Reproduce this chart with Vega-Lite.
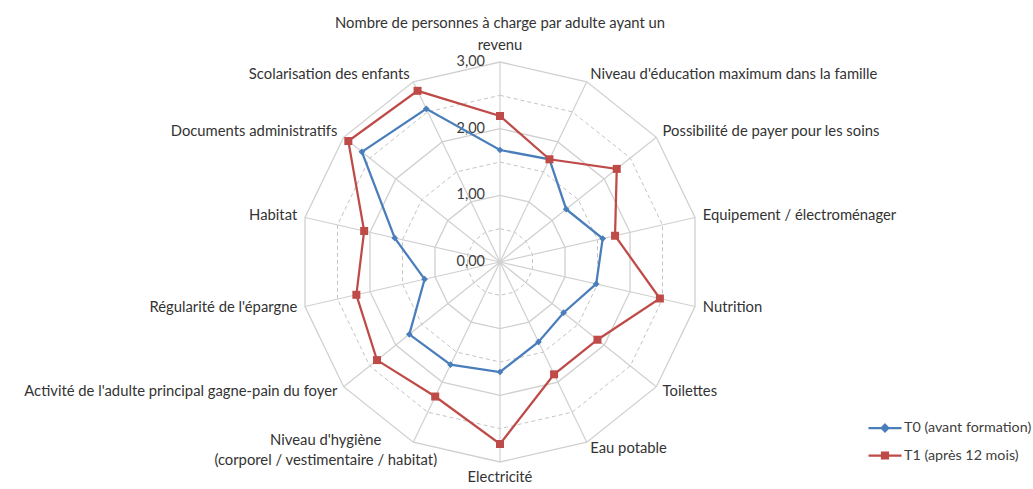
{
  "$schema": "https://vega.github.io/schema/vega-lite/v6.json",
  "width": 1033,
  "height": 489,
  "autosize": "none",
  "padding": 0,
  "config": {"view": {"stroke": null}, "font": "Lato", "text": {"font": "Lato"}},
  "datasets": {
    "axes": [
      {"i": 0, "label": "Nombre de personnes à charge par adulte ayant un\nrevenu"},
      {"i": 1, "label": "Niveau d'éducation maximum dans la famille"},
      {"i": 2, "label": "Possibilité de payer pour les soins"},
      {"i": 3, "label": "Equipement / électroménager"},
      {"i": 4, "label": "Nutrition"},
      {"i": 5, "label": "Toilettes"},
      {"i": 6, "label": "Eau potable"},
      {"i": 7, "label": "Electricité"},
      {"i": 8, "label": "Niveau d'hygiène\n(corporel / vestimentaire / habitat)"},
      {"i": 9, "label": "Activité de l'adulte principal gagne-pain du foyer"},
      {"i": 10, "label": "Régularité de l'épargne"},
      {"i": 11, "label": "Habitat"},
      {"i": 12, "label": "Documents administratifs"},
      {"i": 13, "label": "Scolarisation des enfants"}
    ],
    "scores": [
      {"i": 0, "series": "T0 (avant formation)", "value": 1.68},
      {"i": 1, "series": "T0 (avant formation)", "value": 1.71},
      {"i": 2, "series": "T0 (avant formation)", "value": 1.27},
      {"i": 3, "series": "T0 (avant formation)", "value": 1.58},
      {"i": 4, "series": "T0 (avant formation)", "value": 1.48},
      {"i": 5, "series": "T0 (avant formation)", "value": 1.22},
      {"i": 6, "series": "T0 (avant formation)", "value": 1.33},
      {"i": 7, "series": "T0 (avant formation)", "value": 1.65},
      {"i": 8, "series": "T0 (avant formation)", "value": 1.71},
      {"i": 9, "series": "T0 (avant formation)", "value": 1.74},
      {"i": 10, "series": "T0 (avant formation)", "value": 1.16},
      {"i": 11, "series": "T0 (avant formation)", "value": 1.62},
      {"i": 12, "series": "T0 (avant formation)", "value": 2.65},
      {"i": 13, "series": "T0 (avant formation)", "value": 2.55},
      {"i": 0, "series": "T1 (après 12 mois)", "value": 2.19},
      {"i": 1, "series": "T1 (après 12 mois)", "value": 1.71},
      {"i": 2, "series": "T1 (après 12 mois)", "value": 2.24},
      {"i": 3, "series": "T1 (après 12 mois)", "value": 1.77},
      {"i": 4, "series": "T1 (après 12 mois)", "value": 2.46},
      {"i": 5, "series": "T1 (après 12 mois)", "value": 1.87},
      {"i": 6, "series": "T1 (après 12 mois)", "value": 1.87},
      {"i": 7, "series": "T1 (après 12 mois)", "value": 2.73},
      {"i": 8, "series": "T1 (après 12 mois)", "value": 2.24},
      {"i": 9, "series": "T1 (après 12 mois)", "value": 2.36},
      {"i": 10, "series": "T1 (après 12 mois)", "value": 2.21},
      {"i": 11, "series": "T1 (après 12 mois)", "value": 2.09},
      {"i": 12, "series": "T1 (après 12 mois)", "value": 2.91},
      {"i": 13, "series": "T1 (après 12 mois)", "value": 2.85}
    ],
    "ticks": [{"level": 0}, {"level": 1}, {"level": 2}, {"level": 3}]
  },
  "layer": [
    {
      "data": {"name": "axes"},
      "transform": [
        {"calculate": "[0.5, 1.5, 2.5]", "as": "lv"},
        {"flatten": ["lv"]},
        {"calculate": "datum.i * 2 * PI / 14", "as": "a"},
        {"calculate": "datum.lv * sin(datum.a)", "as": "px"},
        {"calculate": "datum.lv * cos(datum.a)", "as": "py"}
      ],
      "mark": {"type": "line", "interpolate": "linear-closed", "color": "#c4c4c4", "strokeWidth": 1, "strokeDash": [4, 3]},
      "encoding": {
        "x": {"field": "px", "type": "quantitative", "scale": {"domain": [-7.5, 7.995], "nice": false, "zero": false}, "axis": null},
        "y": {"field": "py", "type": "quantitative", "scale": {"domain": [-3.405, 3.93], "nice": false, "zero": false}, "axis": null},
        "detail": {"field": "lv", "type": "nominal"},
        "order": {"field": "i", "type": "quantitative"}
      }
    },
    {
      "data": {"name": "axes"},
      "transform": [
        {"calculate": "[1, 2, 3]", "as": "lv"},
        {"flatten": ["lv"]},
        {"calculate": "datum.i * 2 * PI / 14", "as": "a"},
        {"calculate": "datum.lv * sin(datum.a)", "as": "px"},
        {"calculate": "datum.lv * cos(datum.a)", "as": "py"}
      ],
      "mark": {"type": "line", "interpolate": "linear-closed", "color": "#d0d0d0", "strokeWidth": 1.3},
      "encoding": {
        "x": {"field": "px", "type": "quantitative", "scale": {"domain": [-7.5, 7.995], "nice": false, "zero": false}, "axis": null},
        "y": {"field": "py", "type": "quantitative", "scale": {"domain": [-3.405, 3.93], "nice": false, "zero": false}, "axis": null},
        "detail": {"field": "lv", "type": "nominal"},
        "order": {"field": "i", "type": "quantitative"}
      }
    },
    {
      "data": {"name": "axes"},
      "transform": [
        {"calculate": "datum.i * 2 * PI / 14", "as": "a"},
        {"calculate": "3 * sin(datum.a)", "as": "px"},
        {"calculate": "3 * cos(datum.a)", "as": "py"},
        {"calculate": "0", "as": "cx"},
        {"calculate": "0", "as": "cy"}
      ],
      "mark": {"type": "rule", "color": "#d0d0d0", "strokeWidth": 1.2},
      "encoding": {
        "x": {"field": "cx", "type": "quantitative", "scale": {"domain": [-7.5, 7.995], "nice": false, "zero": false}, "axis": null},
        "y": {"field": "cy", "type": "quantitative", "scale": {"domain": [-3.405, 3.93], "nice": false, "zero": false}, "axis": null},
        "x2": {"field": "px"},
        "y2": {"field": "py"}
      }
    },
    {
      "data": {"name": "ticks"},
      "transform": [
        {"calculate": "replace(format(datum.level, '.2f'), '.', ',')", "as": "txt"},
        {"calculate": "0", "as": "px"},
        {"calculate": "datum.level", "as": "py"}
      ],
      "mark": {"type": "text", "align": "right", "baseline": "middle", "dx": -15, "fontSize": 14.5, "color": "#404040"},
      "encoding": {
        "x": {"field": "px", "type": "quantitative", "scale": {"domain": [-7.5, 7.995], "nice": false, "zero": false}, "axis": null},
        "y": {"field": "py", "type": "quantitative", "scale": {"domain": [-3.405, 3.93], "nice": false, "zero": false}, "axis": null},
        "text": {"field": "txt", "type": "nominal"}
      }
    },
    {
      "data": {"name": "scores"},
      "transform": [
        {"calculate": "datum.i * 2 * PI / 14", "as": "a"},
        {"calculate": "datum.value * sin(datum.a)", "as": "px"},
        {"calculate": "datum.value * cos(datum.a)", "as": "py"}
      ],
      "mark": {"type": "line", "interpolate": "linear-closed", "strokeWidth": 2.25},
      "encoding": {
        "x": {"field": "px", "type": "quantitative", "scale": {"domain": [-7.5, 7.995], "nice": false, "zero": false}, "axis": null},
        "y": {"field": "py", "type": "quantitative", "scale": {"domain": [-3.405, 3.93], "nice": false, "zero": false}, "axis": null},
        "color": {
          "field": "series", "type": "nominal",
          "scale": {"domain": ["T0 (avant formation)", "T1 (après 12 mois)"], "range": ["#4a7ebb", "#be4b48"]},
          "legend": {
            "title": null, "orient": "none", "legendX": 867, "legendY": 421, "padding": 0,
            "symbolSize": 1089, "symbolStrokeWidth": 2.25, "clipHeight": 14, "rowPadding": 12.5,
            "labelOffset": 1, "labelFontSize": 14.3, "labelFont": "Lato", "labelColor": "#404040",
            "symbolType": "M-1,0H1M-0.18,-0.18H0.18V0.18H-0.18Z",
            "encode": {"symbols": {"update": {
              "shape": {"signal": "datum.value == 'T0 (avant formation)' ? 'M-1,0H1M0,-0.2L0.2,0L0,0.2L-0.2,0Z' : 'M-1,0H1M-0.18,-0.18H0.18V0.18H-0.18Z'"},
              "fill": {"scale": "color", "field": "value"},
              "stroke": {"scale": "color", "field": "value"},
              "opacity": {"value": 1}, "fillOpacity": {"value": 1}, "strokeOpacity": {"value": 1}
            }}}
          }
        },
        "order": {"field": "i", "type": "quantitative"}
      }
    },
    {
      "data": {"name": "scores"},
      "transform": [
        {"filter": "datum.series == 'T0 (avant formation)'"},
        {"calculate": "datum.i * 2 * PI / 14", "as": "a"},
        {"calculate": "datum.value * sin(datum.a)", "as": "px"},
        {"calculate": "datum.value * cos(datum.a)", "as": "py"}
      ],
      "mark": {"type": "point", "shape": "diamond", "filled": true, "size": 45, "opacity": 1},
      "encoding": {
        "x": {"field": "px", "type": "quantitative", "scale": {"domain": [-7.5, 7.995], "nice": false, "zero": false}, "axis": null},
        "y": {"field": "py", "type": "quantitative", "scale": {"domain": [-3.405, 3.93], "nice": false, "zero": false}, "axis": null},
        "color": {"field": "series", "type": "nominal", "scale": {"domain": ["T0 (avant formation)", "T1 (après 12 mois)"], "range": ["#4a7ebb", "#be4b48"]}}
      }
    },
    {
      "data": {"name": "scores"},
      "transform": [
        {"filter": "datum.series == 'T1 (après 12 mois)'"},
        {"calculate": "datum.i * 2 * PI / 14", "as": "a"},
        {"calculate": "datum.value * sin(datum.a)", "as": "px"},
        {"calculate": "datum.value * cos(datum.a)", "as": "py"}
      ],
      "mark": {"type": "point", "shape": "square", "filled": true, "size": 64, "opacity": 1},
      "encoding": {
        "x": {"field": "px", "type": "quantitative", "scale": {"domain": [-7.5, 7.995], "nice": false, "zero": false}, "axis": null},
        "y": {"field": "py", "type": "quantitative", "scale": {"domain": [-3.405, 3.93], "nice": false, "zero": false}, "axis": null},
        "color": {"field": "series", "type": "nominal", "scale": {"domain": ["T0 (avant formation)", "T1 (après 12 mois)"], "range": ["#4a7ebb", "#be4b48"]}}
      }
    },
    {
      "data": {"name": "axes"},
      "transform": [
        {"filter": "datum.i >= 1 && datum.i <= 6"},
        {"calculate": "datum.i * 2 * PI / 14", "as": "a"},
        {"calculate": "3.12 * sin(datum.a)", "as": "px"},
        {"calculate": "3.12 * cos(datum.a)", "as": "py"}
      ],
      "mark": {"type": "text", "align": "left", "baseline": "middle", "fontSize": 14.8, "color": "#333333"},
      "encoding": {
        "x": {"field": "px", "type": "quantitative", "scale": {"domain": [-7.5, 7.995], "nice": false, "zero": false}, "axis": null},
        "y": {"field": "py", "type": "quantitative", "scale": {"domain": [-3.405, 3.93], "nice": false, "zero": false}, "axis": null},
        "text": {"field": "label", "type": "nominal"}
      }
    },
    {
      "data": {"name": "axes"},
      "transform": [
        {"filter": "datum.i >= 9"},
        {"calculate": "datum.i * 2 * PI / 14", "as": "a"},
        {"calculate": "3.12 * sin(datum.a)", "as": "px"},
        {"calculate": "3.12 * cos(datum.a)", "as": "py"}
      ],
      "mark": {"type": "text", "align": "right", "baseline": "middle", "fontSize": 14.8, "color": "#333333"},
      "encoding": {
        "x": {"field": "px", "type": "quantitative", "scale": {"domain": [-7.5, 7.995], "nice": false, "zero": false}, "axis": null},
        "y": {"field": "py", "type": "quantitative", "scale": {"domain": [-3.405, 3.93], "nice": false, "zero": false}, "axis": null},
        "text": {"field": "label", "type": "nominal"}
      }
    },
    {
      "data": {"name": "axes"},
      "transform": [
        {"filter": "datum.i == 8"},
        {"calculate": "datum.i * 2 * PI / 14", "as": "a"},
        {"calculate": "3.12 * sin(datum.a)", "as": "px"},
        {"calculate": "3.12 * cos(datum.a)", "as": "py"}
      ],
      "mark": {"type": "text", "align": "center", "baseline": "middle", "dx": -84, "dy": -8, "lineBreak": "\n", "lineHeight": 20, "fontSize": 14.8, "color": "#333333"},
      "encoding": {
        "x": {"field": "px", "type": "quantitative", "scale": {"domain": [-7.5, 7.995], "nice": false, "zero": false}, "axis": null},
        "y": {"field": "py", "type": "quantitative", "scale": {"domain": [-3.405, 3.93], "nice": false, "zero": false}, "axis": null},
        "text": {"field": "label", "type": "nominal"}
      }
    },
    {
      "data": {"name": "axes"},
      "transform": [
        {"filter": "datum.i == 0 || datum.i == 7"},
        {"calculate": "datum.i == 0 ? 3.57 : -3.24", "as": "py"},
        {"calculate": "0", "as": "px"}
      ],
      "mark": {"type": "text", "align": "center", "baseline": "middle", "lineBreak": "\n", "lineHeight": 22, "fontSize": 14.8, "color": "#333333"},
      "encoding": {
        "x": {"field": "px", "type": "quantitative", "scale": {"domain": [-7.5, 7.995], "nice": false, "zero": false}, "axis": null},
        "y": {"field": "py", "type": "quantitative", "scale": {"domain": [-3.405, 3.93], "nice": false, "zero": false}, "axis": null},
        "text": {"field": "label", "type": "nominal"}
      }
    }
  ]
}
